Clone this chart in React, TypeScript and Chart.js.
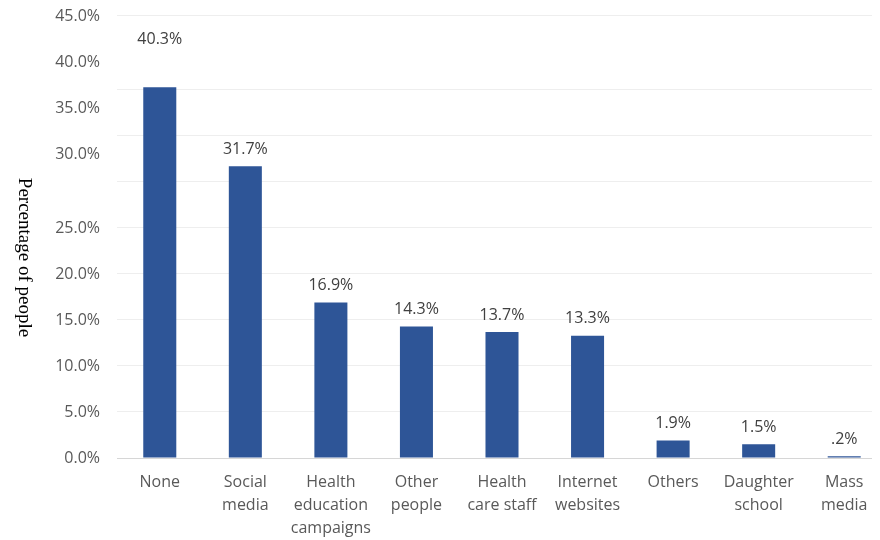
import React, { useEffect, useRef } from "react";
import { Chart, registerables } from "chart.js";

Chart.register(...registerables);

// ---- data ----
const categories = [
  "None",
  "Social\nmedia",
  "Health\neducation\ncampaigns",
  "Other\npeople",
  "Health\ncare staff",
  "Internet\nwebsites",
  "Others",
  "Daughter\nschool",
  "Mass\nmedia",
];
const percentages = [40.3, 31.7, 16.9, 14.3, 13.7, 13.3, 1.9, 1.5, 0.2];
const gridValues = [0, 5, 10, 15, 20, 25, 30, 35, 40];
const tickLabelValues = [0, 5, 10, 15, 20, 25, 30, 35, 40, 45];
const yTitle = "Percentage of people";

// ---- axis quirks of the reference ----
const AXIS_MAX = 48.15;
const LABEL_BREAK_AT = 25;
const LABEL_SHIFT = 3.04;
const NONE_LABEL_EXTRA_LIFT = 31;

const BAR_COLOR = "#2E5597";
const SANS = "'Open Sans', 'Noto Sans', sans-serif";

const fmtPct = (v: number) => {
  const s = v.toFixed(1) + "%";
  return s.startsWith("0.") && v !== 0 ? s.slice(1) : s;
};

const valueLabels = {
  id: "valueLabels",
  afterDatasetsDraw(chart: any) {
    const meta = chart.getDatasetMeta(0);
    const ctx = chart.ctx;
    ctx.save();
    ctx.font = `16px ${SANS}`;
    ctx.fillStyle = "#404040";
    ctx.textAlign = "center";
    ctx.textBaseline = "middle";
    meta.data.forEach((bar: any, i: number) => {
      const lift = 17 + (i === 0 ? NONE_LABEL_EXTRA_LIFT : 0);
      ctx.fillText(fmtPct(percentages[i]), bar.x, bar.y - lift);
    });
    ctx.restore();
  },
};

const yTitlePlugin = {
  id: "yTitlePlugin",
  afterDraw(chart: any) {
    const { ctx, chartArea } = chart;
    ctx.save();
    ctx.translate(16, (chartArea.top + chartArea.bottom) / 2 + 21);
    ctx.rotate(Math.PI / 2);
    ctx.font = "19px 'Liberation Serif', 'DejaVu Serif', serif";
    ctx.fillStyle = "#000000";
    ctx.textAlign = "center";
    ctx.textBaseline = "middle";
    ctx.fillText(yTitle, 0, 0);
    ctx.restore();
  },
};

const zeroPadding = (s: any) => {
  s.paddingTop = 0;
  s.paddingBottom = 0;
  s.paddingLeft = 0;
  s.paddingRight = 0;
};

export default function App() {
  const ref = useRef<HTMLCanvasElement | null>(null);

  useEffect(() => {
    if (!ref.current) return;
    const chart = new Chart(ref.current, {
      type: "bar",
      data: {
        labels: categories.map((c) => c.split("\n")),
        datasets: [
          {
            data: percentages,
            backgroundColor: BAR_COLOR,
            borderWidth: 0,
            yAxisID: "y",
            xAxisID: "x",
            categoryPercentage: 1,
            barPercentage: 0.386,
          },
        ],
      },
      options: {
        responsive: false,
        animation: false,
        layout: { padding: { top: 7, left: 0, right: 0, bottom: 0 } },
        plugins: {
          legend: { display: false },
          tooltip: { enabled: false },
          title: { display: false },
        },
        scales: {
          x: {
            type: "category",
            offset: true,
            grid: { display: false, drawTicks: false },
            border: { display: false },
            ticks: {
              autoSkip: false,
              maxRotation: 0,
              minRotation: 0,
              padding: 13,
              color: "#595959",
              font: { family: SANS, size: 16, lineHeight: 1.44 },
            },
            afterFit: (s: any) => {
              s.height = 82;
              zeroPadding(s);
            },
          },
          y: {
            type: "linear",
            position: "left",
            min: 0,
            max: AXIS_MAX,
            grid: {
              drawTicks: false,
              lineWidth: 1,
              color: (c: any) => (c.tick && c.tick.value === 0 ? "#d6d6d6" : "#eeeeee"),
            },
            border: { display: false },
            ticks: { display: false },
            afterBuildTicks: (s: any) => {
              s.ticks = [...gridValues, AXIS_MAX].map((v) => ({ value: v }));
            },
            afterFit: (s: any) => {
              s.width = 0;
              zeroPadding(s);
            },
          },
          yLabels: {
            type: "linear",
            position: "left",
            min: 0,
            max: AXIS_MAX,
            grid: { display: false, drawTicks: false },
            border: { display: false },
            ticks: {
              padding: 17,
              color: "#595959",
              font: { family: SANS, size: 16 },
              callback: (_v: any, i: number) => fmtPct(tickLabelValues[i]),
            },
            afterBuildTicks: (s: any) => {
              s.ticks = tickLabelValues.map((v) => ({
                value: v > LABEL_BREAK_AT ? v + LABEL_SHIFT : v,
              }));
            },
            afterFit: (s: any) => {
              s.width = 109;
              zeroPadding(s);
            },
          },
        },
      },
      plugins: [valueLabels, yTitlePlugin],
    } as any);
    return () => chart.destroy();
  }, []);

  return (
    <div style={{ width: 872, height: 532, overflow: "hidden", position: "relative" }}>
      <canvas ref={ref} width={879} height={532} style={{ display: "block" }} />
    </div>
  );
}
